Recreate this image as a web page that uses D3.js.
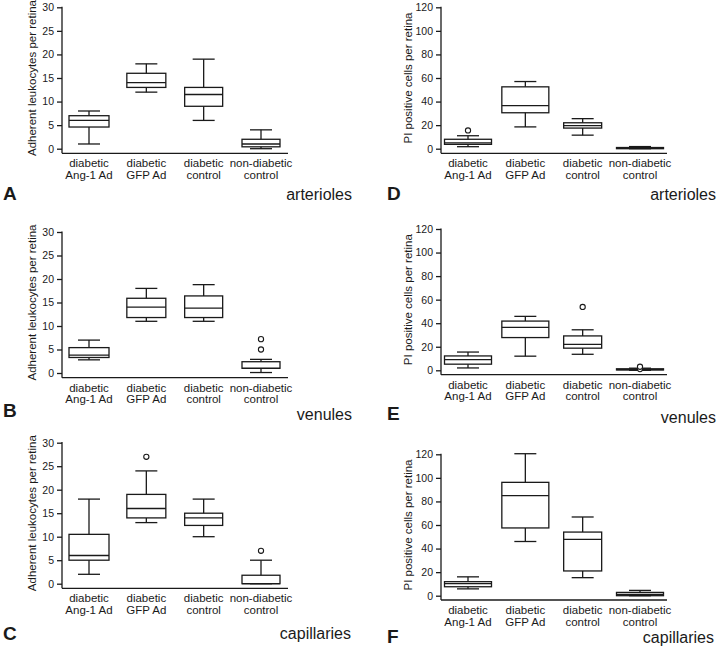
<!DOCTYPE html>
<html>
<head>
<meta charset="utf-8">
<script src="https://cdn.jsdelivr.net/npm/d3@7"></script>
<style>
  html, body { margin: 0; padding: 0; background: #fff; }
  svg { display: block; }
  text { font-family: "Liberation Sans", Arial, Helvetica, sans-serif; fill: #1a1a1a; }
</style>
</head>
<body>
<svg id="chart" width="720" height="650"></svg>
<script>
// ---------- data ----------
const categories = [
  ["diabetic", "Ang-1 Ad"],
  ["diabetic", "GFP Ad"],
  ["diabetic", "control"],
  ["non-diabetic", "control"]
];
const leukoTicks = [0, 5, 10, 15, 20, 25, 30];
const piTicks = [0, 20, 40, 60, 80, 100, 120];
const leukoLabel = "Adherent leukocytes per retina";
const piLabel = "PI positive cells per retina";

// box stats: [whiskerLow, q1, median, q3, whiskerHigh]
const statsA = [[1, 4.6, 6, 7, 8], [12, 13, 14, 16, 18], [6, 9, 11.5, 13, 19], [0, 0.4, 1, 2, 4]];
const outliersA = [[], [], [], []];
const statsB = [[2.8, 3.3, 3.8, 5.4, 7], [11, 11.8, 14, 15.9, 18], [11, 11.8, 13.8, 16.4, 18.8], [0.1, 1, 1, 2.4, 2.9]];
const outliersB = [[], [], [], [5, 7.2]];
const statsC = [[2, 5, 6, 10.5, 18], [13, 14, 16, 19, 24], [10, 12.4, 14, 15, 18], [0, 0, 0, 1.8, 5]];
const outliersC = [[], [27], [], [7]];
const statsD = [[1.7, 3.7, 5, 8, 11], [18.5, 30.5, 36.5, 52.5, 57], [11.5, 17.5, 19.5, 22, 25.5], [0, 0, 0.5, 1, 1.8]];
const outliersD = [[15.5], [], [], []];
const statsE = [[2, 5.2, 9, 12.2, 15.5], [12, 27.8, 36.5, 41.8, 45.8], [13.6, 18.8, 22, 29.2, 34.4], [0, 0.3, 0.6, 1.3, 1.8]];
const outliersE = [[], [], [53.8], [1, 3]];
const statsF = [[5.8, 7.6, 10.2, 11.9, 16], [46, 57.5, 85, 96.2, 120.5], [15.3, 21, 47.8, 54, 66.8], [0, 0, 1, 2.8, 4.5]];
const outliersF = [[], [], [], []];

// ---------- layout ----------
const panels = [
  { letter: "A", region: "arterioles",  stats: statsA, out: outliersA, ticks: leukoTicks, label: leukoLabel,
    ax: 62,  yTop: 7.3,   y0: 148.7, xAxisY: 153.3, labX: 32,    letterX: 3,   letterY: 200, regionX: 352, regionY: 200, side: "L" },
  { letter: "B", region: "venules",     stats: statsB, out: outliersB, ticks: leukoTicks, label: leukoLabel,
    ax: 62,  yTop: 232,   y0: 373,   xAxisY: 377.7, labX: 32,    letterX: 3,   letterY: 417, regionX: 352, regionY: 420, side: "L" },
  { letter: "C", region: "capillaries", stats: statsC, out: outliersC, ticks: leukoTicks, label: leukoLabel,
    ax: 62,  yTop: 442.7, y0: 583.7, xAxisY: 588.3, labX: 32,    letterX: 3,   letterY: 640, regionX: 351, regionY: 639, side: "L" },
  { letter: "D", region: "arterioles",  stats: statsD, out: outliersD, ticks: piTicks, label: piLabel,
    ax: 441, yTop: 7.3,   y0: 148.7, xAxisY: 153.3, labX: 407.5, letterX: 387, letterY: 200, regionX: 716, regionY: 200, side: "R" },
  { letter: "E", region: "venules",     stats: statsE, out: outliersE, ticks: piTicks, label: piLabel,
    ax: 441, yTop: 229,   y0: 370.3, xAxisY: 374.7, labX: 407.5, letterX: 387, letterY: 420, regionX: 716, regionY: 423, side: "R" },
  { letter: "F", region: "capillaries", stats: statsF, out: outliersF, ticks: piTicks, label: piLabel,
    ax: 441, yTop: 454.3, y0: 595.7, xAxisY: 600,   labX: 407.5, letterX: 387, letterY: 643, regionX: 714, regionY: 643, side: "R" }
];
const boxWidthsL = [40, 39, 38, 38];
const boxWidthsR = [47, 47, 38, 47];
const capW = 22;
const stroke = "#1a1a1a";
const sw = 1.3;

const svg = d3.select("#chart");

panels.forEach(p => {
  const g = svg.append("g");
  const yMax = p.ticks[p.ticks.length - 1];
  const y = d3.scaleLinear().domain([0, yMax]).range([p.y0, p.yTop]);
  const x = d3.scalePoint().domain(d3.range(categories.length)).range([p.ax + 27, p.ax + 199]);
  const widths = p.side === "L" ? boxWidthsL : boxWidthsR;

  // y axis
  const yAxis = d3.axisLeft(y).tickValues(p.ticks).tickSize(5).tickPadding(3).tickFormat(d3.format("d"));
  const ya = g.append("g").attr("transform", `translate(${p.ax},0)`).call(yAxis);
  ya.select(".domain").remove();
  ya.selectAll(".tick line").attr("stroke", stroke).attr("stroke-width", sw);
  ya.selectAll(".tick text").attr("font-size", 10.5).attr("fill", "#1a1a1a")
    .style("font-family", '"Liberation Sans", Arial, sans-serif');
  g.append("line").attr("x1", p.ax).attr("x2", p.ax).attr("y1", p.yTop - 0.6).attr("y2", p.xAxisY)
    .attr("stroke", stroke).attr("stroke-width", sw);

  // x axis line
  g.append("line").attr("x1", p.ax).attr("x2", p.ax + 226).attr("y1", p.xAxisY).attr("y2", p.xAxisY)
    .attr("stroke", stroke).attr("stroke-width", sw);

  // category labels
  categories.forEach((c, i) => {
    const t = g.append("text").attr("text-anchor", "middle").attr("font-size", 11.5);
    t.append("tspan").attr("x", x(i)).attr("y", p.xAxisY + 14).text(c[0]);
    t.append("tspan").attr("x", x(i)).attr("y", p.xAxisY + 25.5).text(c[1]);
  });

  // y label
  g.append("text")
    .attr("transform", `translate(${p.labX},${(p.yTop + p.y0) / 2}) rotate(-90)`)
    .attr("text-anchor", "middle").attr("dominant-baseline", "central")
    .attr("font-size", 11.5).text(p.label);

  // boxes
  p.stats.forEach((s, i) => {
    const cx = x(i), w = widths[i];
    const [lo, q1, med, q3, hi] = s;
    const bg = g.append("g").attr("stroke", stroke).attr("stroke-width", sw).attr("fill", "none");
    // whiskers
    bg.append("line").attr("x1", cx).attr("x2", cx).attr("y1", y(hi)).attr("y2", y(q3));
    bg.append("line").attr("x1", cx).attr("x2", cx).attr("y1", y(lo)).attr("y2", y(q1));
    bg.append("line").attr("x1", cx - capW / 2).attr("x2", cx + capW / 2).attr("y1", y(hi)).attr("y2", y(hi));
    bg.append("line").attr("x1", cx - capW / 2).attr("x2", cx + capW / 2).attr("y1", y(lo)).attr("y2", y(lo));
    // box
    bg.append("rect").attr("x", cx - w / 2).attr("width", w)
      .attr("y", y(q3)).attr("height", Math.max(0.5, y(q1) - y(q3)));
    bg.append("line").attr("x1", cx - w / 2).attr("x2", cx + w / 2).attr("y1", y(med)).attr("y2", y(med));
    // outliers
    p.out[i].forEach(v => {
      bg.append("circle").attr("cx", cx).attr("cy", y(v)).attr("r", 2.6).attr("stroke-width", 1.1).attr("fill", "#fff");
    });
  });

  // panel letter and region label
  g.append("text").attr("x", p.letterX).attr("y", p.letterY)
    .attr("font-size", 19).attr("font-weight", "bold").text(p.letter);
  g.append("text").attr("x", p.regionX).attr("y", p.regionY)
    .attr("text-anchor", "end").attr("font-size", 16).text(p.region);
});
</script>
</body>
</html>
